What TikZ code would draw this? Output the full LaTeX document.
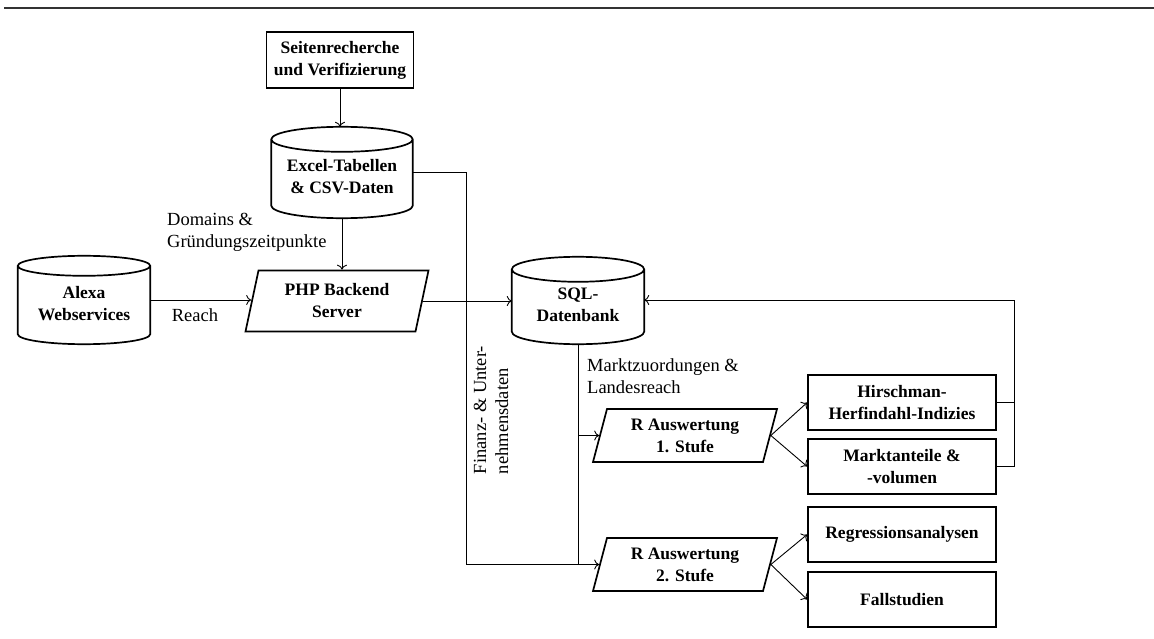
\documentclass[tikz,border=0pt]{standalone}
\usepackage{fontspec}
\setmainfont{Liberation Serif}
\usetikzlibrary{arrows.meta,calc}

\tikzset{
  x=1pt, y=1pt,
  outline/.style={line width=1.7pt},
  conn/.style={line width=0.9pt},
  arr/.style={conn, -{To[length=5pt,width=10pt]}},
  boxtext/.style={font=\fontsize{17.5}{22}\selectfont\bfseries, align=center, inner sep=0pt},
  lbl/.style={font=\fontsize{18.5}{22}\selectfont, align=left, inner sep=0pt},
  box/.style={draw, outline, boxtext, minimum width=188pt, minimum height=55pt},
  dbarea/.style={boxtext},
  para/.style={draw, outline, inner sep=0pt},
}

% vertical cylinder drawn round an (undrawn) rectangular node
\newcommand\drawcyl[2]{%
  \draw[outline] let \p1=(#1.north west), \p2=(#1.south east), \n1={(\x2-\x1)/2} in
    (\x1,\y1-#2) -- (\x1,\y2+#2)
    arc[start angle=180, end angle=360, x radius=\n1, y radius=#2]
    -- (\x2,\y1-#2)
    arc[start angle=0, end angle=360, x radius=\n1, y radius=#2];
}

\begin{document}
\begin{tikzpicture}
\useasboundingbox (0,0) rectangle (1154,-639);

% rule across the top
\draw[line width=2pt, black!80] (4,-8.5) coordinate (rulel) -- (1154,-8.5) coordinate (ruler);

% sources
\node[draw, outline, boxtext, minimum width=147pt, minimum height=56pt] (seite) at (340,-60)
  {Seitenrecherche\\und Verifizierung};
\node[dbarea, minimum width=141pt, minimum height=91pt] (excel) at (342,-172.5)
  {\\[-2pt]Excel-Tabellen\\\& CSV-Daten};
\drawcyl{excel}{12.5pt}
\node[dbarea, minimum width=132pt, minimum height=88pt] (alexa) at (84,-300)
  {\\[-2pt]Alexa\\Webservices};
\drawcyl{alexa}{10pt}

% backend server
\node[para, xslant=0.213, minimum width=170pt, minimum height=61pt] (php) at (337,-301) {};
\node[boxtext] (phpt) at (php) {PHP Backend\\Server};

% database
\node[dbarea, minimum width=132pt, minimum height=87pt] (sql) at (578,-300.5)
  {\\[-2pt]SQL-\\Datenbank};
\drawcyl{sql}{12.5pt}

% evaluation stages
\node[para, xslant=0.264, minimum width=170pt, minimum height=53pt] (r1) at (685,-435.5) {};
\node[boxtext] (r1t) at (r1) {R Auswertung\\1. Stufe};
\node[para, xslant=0.264, minimum width=170pt, minimum height=53pt] (r2) at (685,-564.5) {};
\node[boxtext] (r2t) at (r2) {R Auswertung\\2. Stufe};

% results
\node[box] (hhi)  at (902,-402.5) {Hirschman-\\Herfindahl-Indizies};
\node[box] (mkt)  at (902,-466.5) {Marktanteile \&\\-volumen};
\node[box] (reg)  at (902,-534.5) {Regressionsanalysen};
\node[box] (fall) at (902,-599.5) {Fallstudien};

% routing points
\coordinate (fx) at (466,-172.5);
\coordinate (fb) at (1014,-300);

% connectors
\draw[arr] (seite.south) -- (seite.south |- excel.north);
\draw[arr] (excel.south) -- (excel.south |- php.north);
\draw[arr] (alexa.east) -- (alexa.east -| php.west);
\draw[arr] (php.east) -- (php.east -| sql.west);
\draw[arr] (excel.east) -- (fx) -- (fx |- r2.west) -- (r2.west);
\draw[conn] (sql.south) -- (sql.south |- r2.west);
\draw[arr] (sql.south |- r1.west) -- (r1.west);
\draw[arr] (r1.east) -- (hhi.west);
\draw[arr] (r1.east) -- (mkt.west);
\draw[arr] (r2.east) -- (reg.west);
\draw[arr] (r2.east) -- (fall.west);
\draw[conn] (hhi.east) -- (hhi.east -| fb);
\draw[arr] (mkt.east) -| (fb) -- (fb -| sql.east);

% labels
\node[lbl, anchor=west] (dom) at (167,-232) {Domains \&\\Gründungszeitpunkte};
\node[lbl] (reach) at (195,-315) {Reach};
\node[lbl, anchor=west] (mz) at (587,-376) {Marktzuordungen \&\\Landesreach};
\node[lbl, rotate=90] (fin) at (491,-410) {Finanz- \& Unter-\\nehmensdaten};
\end{tikzpicture}
\end{document}
